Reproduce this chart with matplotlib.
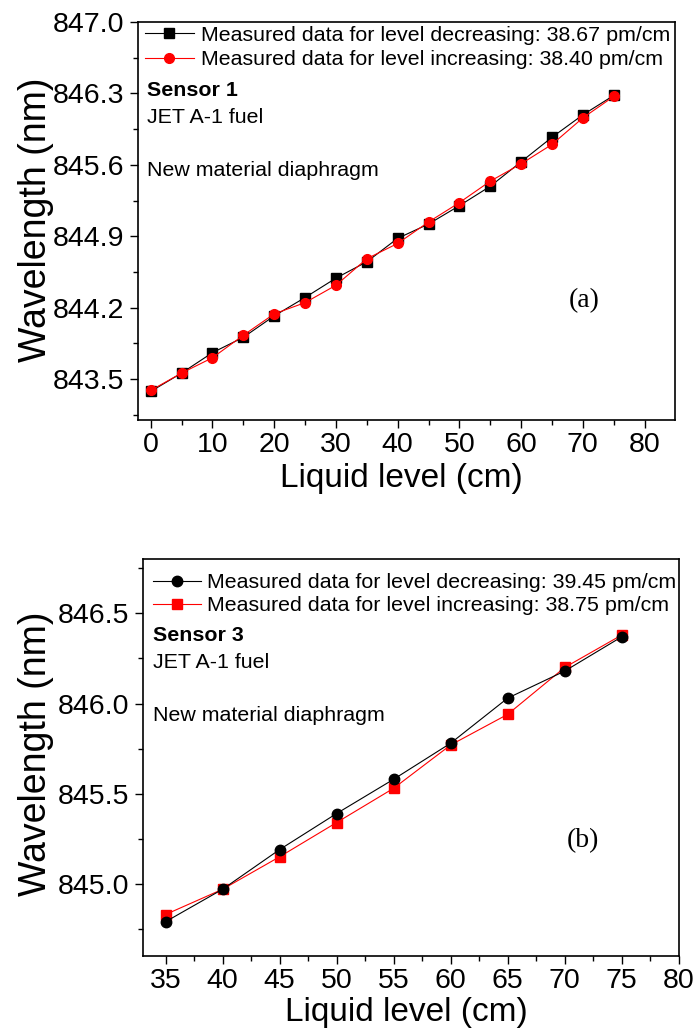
import matplotlib
matplotlib.use("Agg")
import matplotlib.pyplot as plt
from matplotlib.ticker import FixedLocator

plt.rcParams['font.family'] = ['Liberation Sans', 'DejaVu Sans']

# ---------------- data: panel (a) ----------------
level_a = [0, 5, 10, 15, 20, 25, 30, 35, 40, 45, 50, 55, 60, 65, 70, 75]
dec_a = [843.38, 843.56, 843.76, 843.91, 844.12, 844.30, 844.49, 844.65,
         844.88, 845.02, 845.20, 845.39, 845.63, 845.87, 846.09, 846.28]
inc_a = [843.39, 843.56, 843.71, 843.93, 844.14, 844.25, 844.42, 844.68,
         844.83, 845.04, 845.23, 845.44, 845.61, 845.80, 846.06, 846.27]
label_dec_a = "Measured data for level decreasing: 38.67 pm/cm"
label_inc_a = "Measured data for level increasing: 38.40 pm/cm"
xticks_a = [0, 10, 20, 30, 40, 50, 60, 70, 80]
xminor_a = [5, 15, 25, 35, 45, 55, 65, 75]
yticks_a = [843.5, 844.2, 844.9, 845.6, 846.3, 847.0]
yminor_a = [843.15, 843.85, 844.55, 845.25, 845.95, 846.65]

# ---------------- data: panel (b) ----------------
level_b = [35, 40, 45, 50, 55, 60, 65, 70, 75]
dec_b = [844.79, 844.97, 845.19, 845.39, 845.58, 845.78, 846.03, 846.18, 846.37]
inc_b = [844.83, 844.97, 845.15, 845.34, 845.53, 845.77, 845.94, 846.20, 846.38]
label_dec_b = "Measured data for level decreasing: 39.45 pm/cm"
label_inc_b = "Measured data for level increasing: 38.75 pm/cm"
xticks_b = [35, 40, 45, 50, 55, 60, 65, 70, 75, 80]
xminor_b = [37.5, 42.5, 47.5, 52.5, 57.5, 62.5, 67.5, 72.5, 77.5]
yticks_b = [845.0, 845.5, 846.0, 846.5]
yminor_b = [844.75, 845.25, 845.75, 846.25, 846.75]

fig = plt.figure(figsize=(6.96, 10.34), dpi=100)
W, H = 696, 1034

def px_axes(left, right, top, bottom):
    return fig.add_axes([left / W, 1 - bottom / H, (right - left) / W, (bottom - top) / H])

ax1 = px_axes(138.4, 675.4, 22, 420)
ax2 = px_axes(142.7, 678.7, 559.3, 956)

TICK_FS = 20.5
XLAB_FS = 24
YLAB_FS = 27
LEG_FS = 15.4

def style(ax, xt, xm, yt, ym, xlim, ylim, yfmt):
    ax.set_xlim(*xlim)
    ax.set_ylim(*ylim)
    ax.xaxis.set_major_locator(FixedLocator(xt))
    ax.xaxis.set_minor_locator(FixedLocator(xm))
    ax.yaxis.set_major_locator(FixedLocator(yt))
    ax.yaxis.set_minor_locator(FixedLocator(ym))
    ax.set_xticklabels([str(v) for v in xt])
    ax.set_yticklabels([yfmt % v for v in yt])
    ax.tick_params(which='both', direction='out', top=False, right=False, width=1.0)
    ax.tick_params(which='major', length=5.5)
    ax.tick_params(which='minor', length=3.5)
    ax.tick_params(axis='x', which='major', labelsize=TICK_FS, pad=3.5)
    ax.tick_params(axis='y', which='major', labelsize=TICK_FS, pad=4.5)
    for s in ax.spines.values():
        s.set_linewidth(1.2)

# ---- panel (a)
ax1.plot(level_a, dec_a, color='black', lw=0.8, marker='s', ms=6.5,
         mfc='black', mec='black', label=label_dec_a, zorder=3)
ax1.plot(level_a, inc_a, color='red', lw=0.8, marker='o', ms=7,
         mfc='red', mec='red', label=label_inc_a, zorder=4)
style(ax1, xticks_a, xminor_a, yticks_a, yminor_a, (-2, 85), (843.1, 847.0), '%.1f')
ax1.set_xlabel('Liquid level (cm)', fontsize=XLAB_FS)
ax1.set_ylabel('Wavelength (nm)', fontsize=YLAB_FS)
ax1.xaxis.set_label_coords(0.49, -0.108)
ax1.yaxis.set_label_coords(-0.158, 0.503)
ax1.legend(loc='upper left', bbox_to_anchor=(0.013, 0.99), frameon=False,
           fontsize=LEG_FS, handlelength=2.25, handletextpad=0.35,
           labelspacing=0.25, borderpad=0, borderaxespad=0)
ax1.text(0.016, 0.829, 'Sensor 1', transform=ax1.transAxes, fontsize=LEG_FS,
         fontweight='bold', va='center', ha='left')
ax1.text(0.016, 0.759, 'JET A-1 fuel', transform=ax1.transAxes, fontsize=LEG_FS,
         va='center', ha='left')
ax1.text(0.016, 0.626, 'New material diaphragm', transform=ax1.transAxes,
         fontsize=LEG_FS, va='center', ha='left')
ax1.text(0.83, 0.30, '(a)', transform=ax1.transAxes, fontsize=20,
         family=['Liberation Serif', 'DejaVu Serif'], va='center', ha='center')

# ---- panel (b)
ax2.plot(level_b, inc_b, color='red', lw=0.8, marker='s', ms=6.5,
         mfc='red', mec='red', label=label_inc_b, zorder=3)
ax2.plot(level_b, dec_b, color='black', lw=0.8, marker='o', ms=7.5,
         mfc='black', mec='black', label=label_dec_b, zorder=4)
style(ax2, xticks_b, xminor_b, yticks_b, yminor_b, (33, 80), (844.6, 846.8), '%.1f')
ax2.set_xlabel('Liquid level (cm)', fontsize=XLAB_FS)
ax2.set_ylabel('Wavelength (nm)', fontsize=YLAB_FS)
ax2.xaxis.set_label_coords(0.491, -0.103)
ax2.yaxis.set_label_coords(-0.165, 0.51)
h, l = ax2.get_legend_handles_labels()
ax2.legend([h[1], h[0]], [l[1], l[0]], loc='upper left',
           bbox_to_anchor=(0.019, 0.965), frameon=False,
           fontsize=LEG_FS, handlelength=2.25, handletextpad=0.3,
           labelspacing=0.2, borderpad=0, borderaxespad=0)
ax2.text(0.019, 0.808, 'Sensor 3', transform=ax2.transAxes, fontsize=LEG_FS,
         fontweight='bold', va='center', ha='left')
ax2.text(0.019, 0.740, 'JET A-1 fuel', transform=ax2.transAxes, fontsize=LEG_FS,
         va='center', ha='left')
ax2.text(0.019, 0.607, 'New material diaphragm', transform=ax2.transAxes,
         fontsize=LEG_FS, va='center', ha='left')
ax2.text(0.821, 0.29, '(b)', transform=ax2.transAxes, fontsize=20,
         family=['Liberation Serif', 'DejaVu Serif'], va='center', ha='center')

fig.savefig('out.png', dpi=100)
